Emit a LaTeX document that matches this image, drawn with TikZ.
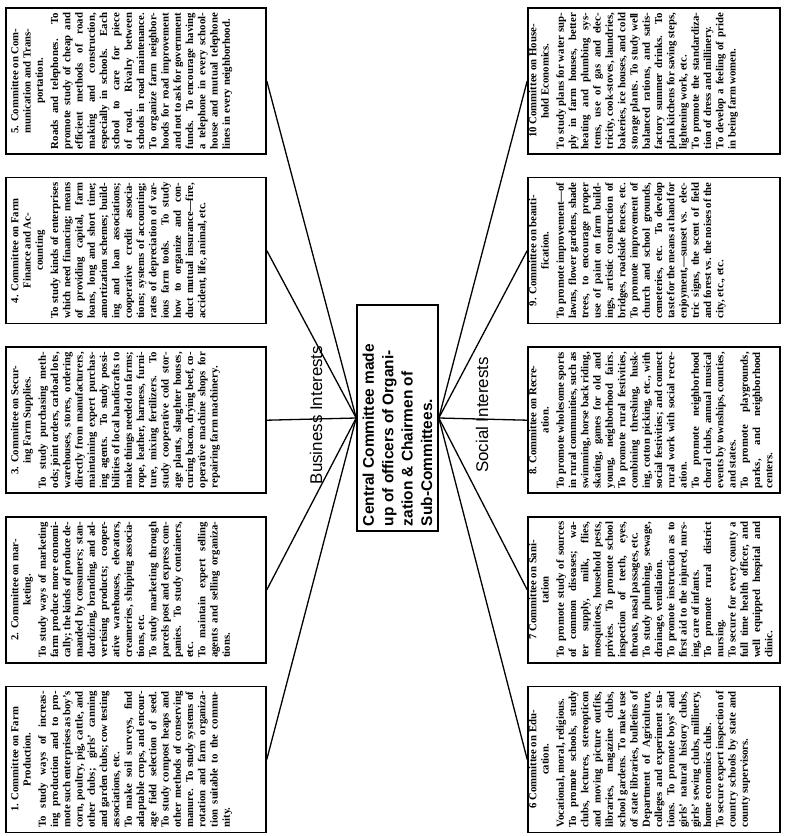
\documentclass[tikz,border=0pt]{standalone}
\usepackage{fontspec}
\setmainfont{Liberation Serif}
\newfontfamily\labelfont{Liberation Sans}
\usetikzlibrary{positioning}

\tikzset{
  committee/.style={draw, line width=1.6bp, minimum width=260bp, minimum height=146bp, inner sep=0pt},
  central/.style={draw, line width=1.6bp, minimum width=81bp, minimum height=226bp, inner sep=0pt},
  interest/.style={font=\labelfont\fontsize{17}{19}\selectfont, rotate=90, inner sep=0pt},
  link/.style={line width=1.3bp}
}

% rotated text of one committee: heading, then body
\newcommand{\committeetext}[2]{%
  \rotatebox{90}{\parbox[c][250bp][t]{136bp}{%
    \bfseries\fontsize{10.8}{12.3}\selectfont\sloppy\parindent=0pt
    {\centering #1\par}\vspace{3bp}#2}}}

\begin{document}
\begin{tikzpicture}[x=1bp, y=-1bp]
   \useasboundingbox (0,0) rectangle (785,836);

   % business committees
   \node[committee] (c5) at (136,81) {\committeetext{5. Committee on Com-\\munication and Trans-\\portation.}{Roads and telephones. To promote study of cheap and efficient methods of road making and construction, especially in schools. Each school to care for piece of road. Rivalry between schools in road maintenance. To organize farm neighborhoods for road improvement and not to ask for government funds. To encourage having a telephone in every schoolhouse and mutual telephone lines in every neighborhood.}};
   \node[committee] (c4) [below=22bp of c5] {\committeetext{4. Committee on Farm\\ Finance and Ac-\\counting}{To study kinds of enterprises which need financing; means of providing capital, farm loans, long and short time; amortization schemes; building and loan associations; cooperative credit associations; systems of accounting; rates of depreciation of various farm tools. To study how to organize and conduct mutual insurance---fire, accident, life, animal, etc.}};
   \node[committee] (c3) [below=22bp of c4] {\committeetext{3. Committee on Secur-\\ing Farm Supplies.}{To study purchasing methods; joint orders, carload lots, warehouses, stores, ordering directly from manufacturers, maintaining expert purchasing agents. To study possibilities of local handicrafts to make things needed on farms; rope, leather, harness, furniture, mixing fertilizers. To study cooperative cold storage plants, slaughter houses, curing bacon, drying beef, cooperative machine shops for repairing farm machinery.}};
   \node[committee] (c2) [below=22bp of c3] {\committeetext{2. Committee on mar-\\keting.}{To study ways of marketing farm produce more economically; the kinds of produce demanded by consumers; standardizing, branding, and advertising products; cooperative warehouses, elevators, creameries, shipping associations, etc.\par To study marketing through parcels post and express companies. To study containers, etc.\par To maintain expert selling agents and selling organizations.}};
   \node[committee] (c1) [below=22bp of c2] {\committeetext{1. Committee on Farm\\ Production.}{To study ways of increasing production and to promote such enterprises as boy's corn, poultry, pig, cattle, and other clubs; girls' canning and garden clubs; cow testing associations, etc.\par To make soil surveys, find adaptable crops, and encourage field selection of seed. To study compost heaps and other methods of conserving manure. To study systems of rotation and farm organization suitable to the community.}};

   % social committees
   \node[committee, minimum width=252bp] (c10) at (654,81) {\committeetext{10 Committee on House-\\hold Economics.}{To study plans for water supply in farm houses, better heating and plumbing systems, use of gas and electricity, cook-stoves, laundries, bakeries, ice houses, and cold storage plants. To study well balanced rations, and satisfactory summer drinks. To plan kitchens for saving steps, lightening work, etc.\par To promote the standardization of dress and millinery.\par To develop a feeling of pride in being farm women.}};
   \node[committee, minimum width=252bp] (c9) [below=22bp of c10] {\committeetext{9. Committee on beauti-\\fication.}{To promote improvement---of lawns, flower gardens, shade trees, to encourage proper use of paint on farm buildings, artistic construction of bridges, roadside fences, etc. To promote improvement of church and school grounds, cemeteries, etc. To develop taste for the means at hand for enjoyment,---sunset vs. electric signs, the scent of field and forest vs. the noises of the city, etc., etc.}};
   \node[committee, minimum width=252bp] (c8) [below=22bp of c9] {\committeetext{8. Committee on Recre-\\ation.}{To promote wholesome sports in rural communities, such as swimming, horse back riding, skating, games for old and young, neighborhood fairs. To promote rural festivities, combining threshing, husking, cotton picking, etc., with social festivities; and connect rural work with social recreation.\par To promote neighborhood choral clubs, annual musical events by townships, counties, and states.\par To promote playgrounds, parks, and neighborhood centers.}};
   \node[committee, minimum width=252bp] (c7) [below=22bp of c8] {\committeetext{7 Committee on Sani-\\tation}{To promote study of sources of common diseases; water supply, milk, flies, mosquitoes, household pests, privies. To promote school inspection of teeth, eyes, throats, nasal passages, etc.\par To study plumbing, sewage, drainage, ventilation.\par To promote instruction as to first aid to the injured, nursing, care of infants.\par To promote rural district nursing.\par To secure for every county a full time health officer, and well equipped hospital and clinic.}};
   \node[committee, minimum width=252bp] (c6) [below=22bp of c7] {\committeetext{6 Committee on Edu-\\cation.}{Vocational, moral, religious.\par To promote schools, study clubs, lectures, stereopticon and moving picture outfits, libraries, magazine clubs, school gardens. To make use of state libraries, bulletins of Department of Agriculture, colleges and experiment stations. To promote boys' and girls' natural history clubs, girls' sewing clubs, millinery, home economics clubs.\par To secure expert inspection of country schools by state and county supervisors.}};

   % central committee
   \node[central] (cc) at (397.5,418) {\rotatebox{90}{\parbox{216bp}{\labelfont\bfseries\fontsize{15.5}{19.5}\selectfont Central Committee made\\ up of officers of Organi-\\ zation \& Chairmen of\\ Sub-Committees.}}};

   \path[link] (cc.west) edge (c1.east) edge (c2.east) edge (c3.east)
                         edge (c4.east) edge (c5.east);
   \path[link] (cc.east) edge (c6.west) edge (c7.west) edge (c8.west)
                         edge (c9.west) edge (c10.west);

   \node[interest] (bi) at (316,415) {Business Interests};
   \node[interest] (si) at (482,415) {Social Interests};
  \end{tikzpicture}
\end{document}
